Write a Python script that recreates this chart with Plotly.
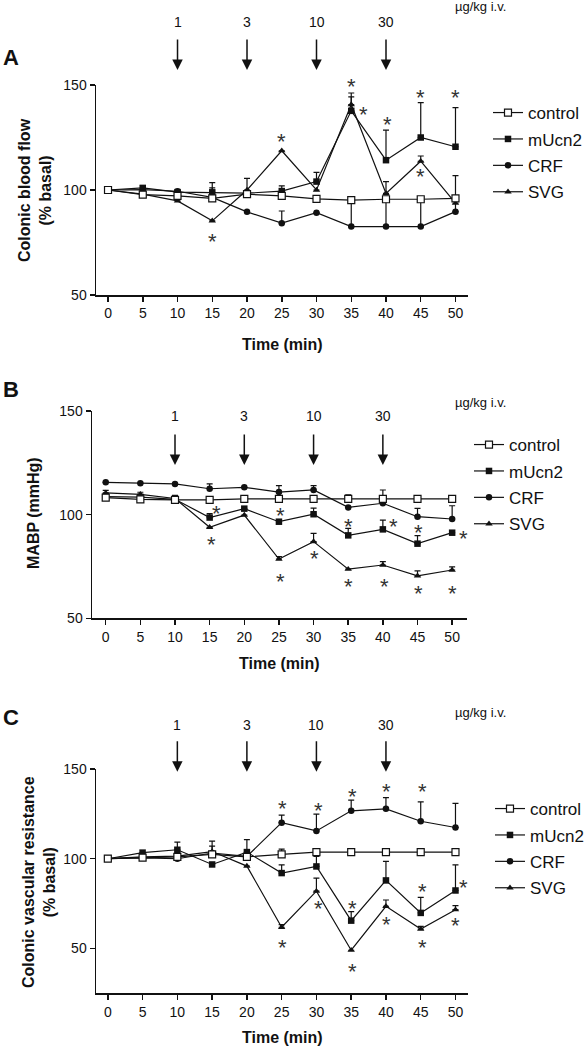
import plotly.graph_objects as go

# ---------------- data ----------------
time_min = [0, 5, 10, 15, 20, 25, 30, 35, 40, 45, 50]
series_names = ["control", "mUcn2", "CRF", "SVG"]
dose_times = [10, 20, 30, 40]
dose_labels = ["1", "3", "10", "30"]
dose_unit = "µg/kg i.v."

# Panel A: colonic blood flow (% basal)
A_control = [100, 97.8, 97.2, 96.0, 98.0, 97.2, 95.8, 95.2, 95.6, 95.6, 96.0]
A_control_err = [0, 0.8, 0.8, 5.0, 0, 0, 0, 0, 0, 0, 10.8]
A_mUcn2 = [100, 101.0, 99.0, 98.9, 98.5, 99.5, 104.0, 137.7, 114.2, 125.0, 120.6]
A_mUcn2_err = [0, 1.0, 0.8, 4.6, 7.0, 2.5, 4.4, 6.6, 14.3, 16.6, 18.6]
A_CRF = [100, 100.2, 99.4, 96.5, 89.6, 84.2, 89.2, 82.6, 82.6, 82.6, 89.7]
A_CRF_err = [0, 0, 0, 0, 0, 5.8, 0, 12.5, 13.0, 13.0, 6.0]
A_SVG = [100, 98.0, 94.8, 85.3, 100.0, 118.7, 100.0, 140.7, 98.4, 113.7, 93.7]
A_SVG_err = [0, 0, 0, 0, 0, 0, 0, 5.5, 5.6, 2.5, 0]
A_star_x = [15, 25, 35, 36.7, 40.2, 45, 50, 45]
A_star_y = [77.8, 125.3, 151.9, 138.4, 133.8, 146.3, 146.3, 109.0]

# Panel B: MABP (mmHg)
B_control = [108.2, 107.4, 107.1, 107.1, 107.6, 107.6, 107.6, 107.6, 107.6, 107.6, 107.6]
B_control_err = [0, 0, 0, 0, 0, 0, 0, 1.9, 4.3, 0, 0]
B_mUcn2 = [108.7, 108.5, 107.4, 98.6, 102.9, 96.6, 100.2, 90.0, 92.9, 86.0, 91.3]
B_mUcn2_err = [0, 0, 0, 1.9, 0, 0, 2.9, 3.4, 4.5, 3.9, 0]
B_CRF = [115.6, 115.1, 114.8, 112.5, 113.2, 110.9, 111.9, 103.5, 105.5, 99.0, 97.9]
B_CRF_err = [0, 0, 0, 2.3, 0, 3.1, 2.1, 0, 0, 4.0, 6.4]
B_SVG = [110.5, 109.8, 107.8, 93.9, 99.8, 78.6, 87.0, 73.7, 75.7, 70.5, 73.3]
B_SVG_err = [1.2, 1.0, 1.5, 0, 0, 1.2, 4.0, 0, 1.6, 2.4, 1.5]
B_star_x = [16.0, 15.2, 25.2, 25.2, 30.1, 35.1, 35.1, 41.5, 40.2, 45.1, 45.1, 50.1, 51.6]
B_star_y = [103.1, 87.8, 101.8, 70.1, 81.4, 96.6, 67.7, 96.6, 67.7, 93.7, 64.5, 64.5, 91.0]

# Panel C: colonic vascular resistance (% basal)
C_control = [100, 100.6, 101.0, 102.4, 101.0, 102.4, 103.7, 103.7, 103.7, 103.7, 103.7]
C_control_err = [0, 0, 0, 4.6, 0, 3.0, 0, 0, 0, 0, 0]
C_mUcn2 = [100, 103.4, 105.0, 96.8, 103.7, 92.0, 95.7, 65.5, 87.9, 69.8, 82.3]
C_mUcn2_err = [0, 0, 4.3, 0, 0, 4.6, 5.6, 5.0, 10.6, 8.7, 14.3]
C_CRF = [100, 100.5, 100.0, 103.2, 101.3, 120.1, 115.5, 126.7, 127.8, 120.9, 117.4]
C_CRF_err = [0, 0, 0, 6.6, 9.3, 4.2, 9.3, 5.9, 6.3, 10.8, 13.4]
C_SVG = [100, 101.0, 101.5, 104.0, 95.9, 61.8, 81.9, 49.0, 73.5, 60.8, 71.6]
C_SVG_err = [0, 0, 0, 0, 0, 1.5, 7.3, 0, 3.5, 1.5, 2.3]
C_star_x = [25.1, 25.1, 30.3, 30.3, 35.2, 35.2, 35.2, 40.1, 40.1, 45.2, 45.2, 45.2, 50.0, 51.2]
C_star_y = [130.8, 53.4, 129.9, 74.8, 137.7, 74.8, 39.7, 140.1, 66.4, 140.1, 84.5, 53.4, 65.5, 87.0]

# ---------------- styling ----------------
W, H = 585, 1049
FONT = "Liberation Sans, Arial, Helvetica, sans-serif"
BLACK = "#111111"


def px_x(p):
    return p / W


def px_y(p):
    return 1 - p / H


marker_styles = {
    "control": dict(symbol="square", size=7, color="white", line=dict(color=BLACK, width=1.2)),
    "mUcn2": dict(symbol="square", size=6.5, color=BLACK, line=dict(color=BLACK, width=0)),
    "CRF": dict(symbol="circle", size=6.5, color=BLACK, line=dict(color=BLACK, width=0)),
    "SVG": dict(symbol="triangle-up", size=6.5, color=BLACK, line=dict(color=BLACK, width=0)),
}
rank = {"control": 1, "mUcn2": 2, "CRF": 3, "SVG": 4}

panels = [
    dict(key="", legend="legend",
         series={"mUcn2": (A_mUcn2, A_mUcn2_err), "CRF": (A_CRF, A_CRF_err),
                 "SVG": (A_SVG, A_SVG_err), "control": (A_control, A_control_err)},
         stars=(A_star_x, A_star_y)),
    dict(key="2", legend="legend2",
         series={"mUcn2": (B_mUcn2, B_mUcn2_err), "CRF": (B_CRF, B_CRF_err),
                 "SVG": (B_SVG, B_SVG_err), "control": (B_control, B_control_err)},
         stars=(B_star_x, B_star_y)),
    dict(key="3", legend="legend3",
         series={"mUcn2": (C_mUcn2, C_mUcn2_err), "CRF": (C_CRF, C_CRF_err),
                 "SVG": (C_SVG, C_SVG_err), "control": (C_control, C_control_err)},
         stars=(C_star_x, C_star_y)),
]

fig = go.Figure()
annotations = []

for p in panels:
    xa = "x" + p["key"]
    ya = "y" + p["key"]
    for name, (vals, errs) in p["series"].items():
        fig.add_trace(go.Scatter(
            x=time_min, y=vals, name=name, mode="lines+markers",
            xaxis=xa, yaxis=ya, legend=p["legend"], legendrank=rank[name],
            legendgroup=p["legend"] + name,
            line=dict(color=BLACK, width=1.2),
            marker=marker_styles[name],
            error_y=dict(type="data", symmetric=False, array=errs,
                         arrayminus=[0] * len(errs), color=BLACK,
                         thickness=1.2, width=3),
            cliponaxis=False,
        ))
    sx, sy = p["stars"]
    for x, y in zip(sx, sy):
        # text sits at the (invisible) arrow tail = the asterisk position;
        # the hidden arrow head stays inside the axis range so marks just
        # above the axis top remain visible
        annotations.append(dict(x=x, y=100, xref=xa, yref=ya,
                                ax=x, ay=y, axref=xa, ayref=ya,
                                text="*", showarrow=True,
                                arrowcolor="rgba(0,0,0,0)", arrowwidth=0.1,
                                yshift=-5, xanchor="center", yanchor="middle",
                                font=dict(family=FONT, size=22, color="#333333")))

# axis geometry (page pixel positions)
axis_geo = {
    "": dict(xl=96, xr=468, yb=295, yt=85, xrange=[-1.73, 51.8], yrange=[50, 150]),
    "2": dict(xl=92, xr=466.7, yb=618.3, yt=411, xrange=[-1.98, 52.1], yrange=[50, 150]),
    "3": dict(xl=96, xr=468, yb=993.3, yt=769, xrange=[-1.7, 51.8], yrange=[25, 150]),
}

layout_axes = {}
for key, g in axis_geo.items():
    common = dict(showline=True, linecolor=BLACK, linewidth=1.5, ticks="outside",
                  ticklen=5, tickwidth=1.5, tickcolor=BLACK, showgrid=False,
                  zeroline=False, automargin=False,
                  tickfont=dict(family=FONT, size=14, color=BLACK))
    layout_axes["xaxis" + key] = dict(
        common, domain=[px_x(g["xl"]), px_x(g["xr"])], range=g["xrange"],
        tickvals=time_min, anchor="y" + key)
    layout_axes["yaxis" + key] = dict(
        common, domain=[px_y(g["yb"]), px_y(g["yt"])], range=g["yrange"],
        tickvals=[50, 100, 150], anchor="x" + key)

# dose arrows and labels (page pixel positions per panel)
arrow_geo = {
    "": dict(head=70, label=22, unit_y=7),
    "2": dict(head=465, label=416, unit_y=402),
    "3": dict(head=771.7, label=725, unit_y=712),
}
for key, g in arrow_geo.items():
    xa = "x" + key
    for t, lab in zip(dose_times, dose_labels):
        annotations.append(dict(x=t, y=px_y(g["head"]), xref=xa, yref="paper",
                                text="", showarrow=True, ax=0, ay=-32,
                                arrowhead=2, arrowsize=1.4, arrowwidth=1.5,
                                arrowcolor=BLACK))
        annotations.append(dict(x=t, y=px_y(g["label"]), xref=xa, yref="paper",
                                text=lab, showarrow=False,
                                xanchor="center", yanchor="middle",
                                font=dict(family=FONT, size=14, color=BLACK)))
    annotations.append(dict(x=px_x(480), y=px_y(g["unit_y"]), xref="paper", yref="paper",
                            text=dose_unit, showarrow=False,
                            xanchor="center", yanchor="middle",
                            font=dict(family=FONT, size=13, color=BLACK)))

# panel letters, axis titles
letters = [("A", 57), ("B", 390), ("C", 717)]
for txt, y in letters:
    annotations.append(dict(x=px_x(1), y=px_y(y), xref="paper", yref="paper",
                            text="<b>%s</b>" % txt, showarrow=False,
                            xanchor="left", yanchor="middle",
                            font=dict(family=FONT, size=22, color=BLACK)))

xtitles = [(282, 345), (279, 663), (282, 1037)]
for x, y in xtitles:
    annotations.append(dict(x=px_x(x), y=px_y(y), xref="paper", yref="paper",
                            text="<b>Time (min)</b>", showarrow=False,
                            xanchor="center", yanchor="middle",
                            font=dict(family=FONT, size=16, color=BLACK)))

ytitles = [("<b>Colonic blood flow</b><br><b>(% basal)</b>", 35, 190),
           ("<b>MABP (mmHg)</b>", 33, 513),
           ("<b>Colonic vascular resistance</b><br><b>(% basal)</b>", 39, 882)]
for txt, x, y in ytitles:
    annotations.append(dict(x=px_x(x), y=px_y(y), xref="paper", yref="paper",
                            text=txt, showarrow=False, textangle=-90,
                            xanchor="center", yanchor="middle",
                            font=dict(family=FONT, size=16, color=BLACK)))

legend_common = dict(xanchor="left", yanchor="top", bgcolor="rgba(0,0,0,0)",
                     tracegroupgap=1.3, itemwidth=30,
                     font=dict(family=FONT, size=17, color=BLACK))

fig.update_layout(
    width=W, height=H, margin=dict(l=0, r=0, t=0, b=0, autoexpand=False),
    paper_bgcolor="white", plot_bgcolor="white",
    font=dict(family=FONT, color=BLACK),
    annotations=annotations,
    legend=dict(legend_common, x=px_x(488), y=px_y(95)),
    legend2=dict(legend_common, x=px_x(469), y=px_y(427)),
    legend3=dict(legend_common, x=px_x(490), y=px_y(791)),
    **layout_axes,
)

# place the fixed-size figure flush with the window (no default page margin)
page_fix = ("document.body.style.margin='0';"
            "document.body.style.padding='0';"
            "document.body.style.overflow='hidden';")
fig.write_html("out.html", post_script=page_fix,
               config={"displayModeBar": False, "staticPlot": True})
